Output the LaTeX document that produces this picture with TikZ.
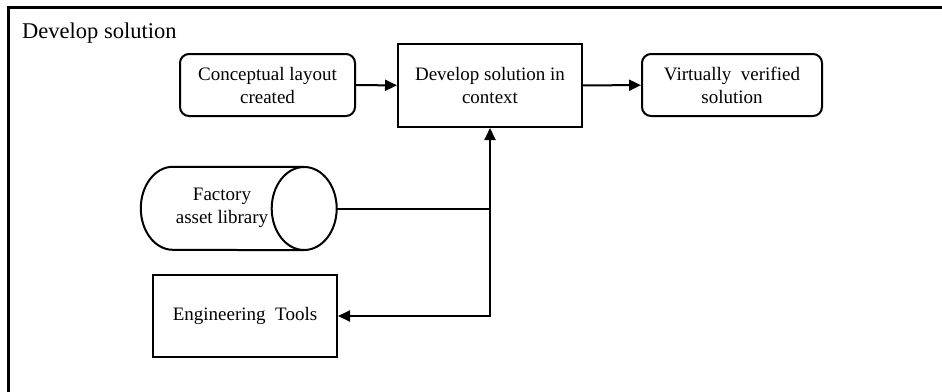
\documentclass[tikz,border=0pt]{standalone}
\usepackage{fontspec}
\setmainfont{Liberation Serif}
\usetikzlibrary{arrows.meta}

\tikzset{
  boxtext/.style={font=\fontsize{19}{23}\selectfont, align=center, inner sep=0pt},
  plainbox/.style={boxtext, draw, line width=2pt},
  roundbox/.style={plainbox, rounded corners=9pt},
  tip/.tip={Triangle[length=12pt,width=11pt]},
  link/.style={line width=2pt, -tip},
  tail/.style={line width=2pt}
}

\begin{document}
\begin{tikzpicture}[x=1pt, y=-1pt]
  \useasboundingbox (0,0) rectangle (942,391);
  \fill[white] (0,0) rectangle (942,391);

  % outer frame, running off the page at right and bottom
  \draw[line width=3pt] (8,400) -- (8,7) -- (950,7);
  \node[anchor=base west, inner sep=0pt, font=\fontsize{22.5}{26}\selectfont] (title) at (22,38) {Develop solution};

  % top row
  \node[roundbox, minimum width=175pt, minimum height=62pt] (concept) at (267.5,85) {Conceptual layout\\created};
  \node[plainbox, minimum width=184pt, minimum height=83pt] (dev) at (490,85.5) {Develop solution in\\context};
  \node[roundbox, minimum width=180pt, minimum height=62pt] (virt) at (732,85) {Virtually~~verified\\solution};

  % asset library drawn as a horizontal cylinder
  \node[minimum width=196pt, minimum height=83pt, inner sep=0pt] (lib) at (239,208.5) {};
  \draw[line width=2pt]
    ([xshift=-33pt]lib.north east) -- ([xshift=32pt]lib.north west)
    arc[start angle=90, end angle=270, x radius=32pt, y radius=41.5pt]
    -- ([xshift=-33pt]lib.south east);
  \draw[line width=2pt] ([xshift=-33pt]lib.east) ellipse[x radius=32.5pt, y radius=41.5pt];
  \node[boxtext] (libtext) at (222,208) {Factory\\asset library};

  \node[plainbox, minimum width=184pt, minimum height=82pt] (tools) at (245,316) {Engineering~~Tools};

  % connectors
  \draw[link] (concept) -- (dev);
  \draw[link] (dev) -- (virt);
  \coordinate (join) at (dev.south |- lib.east);
  \draw[tail] (lib.east) -- (join);
  \draw[line width=2pt, tip-tip] (tools.east) -| (dev.south);
\end{tikzpicture}
\end{document}
